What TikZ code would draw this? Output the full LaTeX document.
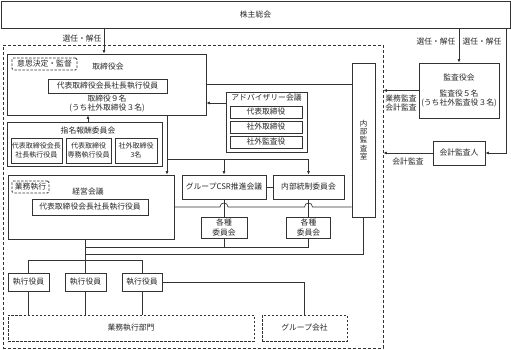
\documentclass[tikz,border=0pt]{standalone}
\usepackage{fontspec}
\newfontfamily\jp{Noto Sans CJK JP}
\usetikzlibrary{arrows.meta,calc}
\begin{document}
\begin{tikzpicture}[x=1pt,y=-1pt,
  font=\jp\fontsize{7.8}{9.3}\selectfont,
  ln/.style={line width=0.65pt,draw=black!80},
  arr/.style={ln,-{Latex[length=3.5pt,width=3pt]}},
  sz/.style 2 args={minimum width=#1pt,minimum height=#2pt},
  bx/.style={draw=black!80,line width=0.75pt,inner sep=0pt,align=center,text=black!85},
  dbx/.style={bx,dash pattern=on 2.5pt off 1.5pt},
  txt/.style={inner sep=0pt,align=center,text=black!85},
  small/.style={font=\jp\fontsize{7}{8.5}\selectfont}]
\useasboundingbox (0,0) rectangle (511,350);
% outer dashed region
\node[bx,dash pattern=on 3pt off 2pt,sz={380}{303}] (org) at (193,196.5) {};
% shareholders
\node[bx,sz={509}{27}] (sh) at (255.5,14.5) {株主総会};
% board
\node[bx,sz={199}{61}] (tori) at (106.5,84.5) {};
\node[dbx,rounded corners=1.5pt,sz={65}{12}] (ishi) at (44.5,64) {意思決定・監督};
\node[txt] (toriT) at (108,67) {取締役会};
\node[bx,sz={119}{14}] (toriP) at (107.5,86) {代表取締役会長社長執行役員};
\node[txt] (toriN) at (107,103.5) {取締役９名\\(うち社外取締役３名)};
% nomination committee
\node[bx,sz={155}{44}] (shimei) at (84.5,144) {};
\node[txt] (shimeiT) at (88,131) {指名報酬委員会};
\node[bx,small,sz={51}{25}] (sm1) at (36.5,150.5) {代表取締役会長\\社長執行役員};
\node[bx,small,sz={45}{25}] (sm2) at (88.5,150.5) {代表取締役\\専務執行役員};
\node[bx,small,sz={42}{25}] (sm3) at (136,150.5) {社外取締役\\3名};
% advisory
\node[bx,sz={81}{60}] (adv) at (266.5,122) {};
\node[txt] (advT) at (266.5,98) {アドバイザリー会議};
\node[bx,sz={72}{12}] (adv1) at (266,112) {代表取締役};
\node[bx,sz={72}{12}] (adv2) at (266,127) {社外取締役};
\node[bx,sz={72}{12}] (adv3) at (266,142) {社外監査役};
% internal audit
\node[bx,sz={23}{154},font=\jp\fontsize{7.5}{8.3}\selectfont] (ikan) at (363.5,140) {内\\部\\監\\査\\室};
% auditors
\node[bx,sz={80}{55}] (kansa) at (459,90.5) {監査役会\\[7pt]監査役５名\\(うち社外監査役３名)};
\node[bx,sz={52}{24}] (kaikei) at (459,153) {会計監査人};
% management meeting
\node[bx,sz={166}{64}] (keiei) at (91,207) {};
\node[dbx,rounded corners=1.5pt,sz={37}{12}] (gyo) at (30.5,187) {業務執行};
\node[txt] (keieiT) at (88,192) {経営会議};
\node[bx,sz={116}{16}] (keieiP) at (90,207) {代表取締役会長社長執行役員};
% CSR & internal control
\node[bx,sz={84}{24}] (csr) at (224,187) {グループCSR推進会議};
\node[bx,sz={71}{24}] (naibu) at (308.5,187) {内部統制委員会};
\node[bx,sz={46}{21}] (k1) at (224,227.5) {各種\\委員会};
\node[bx,sz={44}{21}] (k2) at (308.5,227.5) {各種\\委員会};
% executives
\node[bx,sz={41}{18}] (ex1) at (28.5,282) {執行役員};
\node[bx,sz={41}{18}] (ex2) at (85.5,282) {執行役員};
\node[bx,sz={40}{18}] (ex3) at (142,282) {執行役員};
\node[dbx,sz={246}{26}] (gyomu) at (131,328) {業務執行部門};
\node[dbx,sz={85}{26}] (grp) at (304.5,328) {グループ会社};
% labels
\node[txt] (l1) at (82,39) {選任・解任};
\node[txt] (l2) at (436,42) {選任・解任};
\node[txt] (l3) at (482,42) {選任・解任};
\node[txt] (l4) at (401,103) {業務監査\\会計監査};
\node[txt] (l5) at (408,162) {会計監査};
% coordinates
\coordinate (t1) at ([xshift=-2.5pt]tori.north);
\coordinate (t2) at ([xshift=3.5pt]shimei.north);
\coordinate (v1) at (167,159);
\coordinate (a2) at (226,103);
\coordinate (r1) at (506,28);
\coordinate (j1) at (85.5,247);
\coordinate (j2) at (85.5,254);
% connectors
\draw[arr] (t1 |- sh.south) -- (t1);
\draw[arr] (kansa.north |- sh.south) -- (kansa.north);
\draw[arr] (r1) |- (kaikei.east);
\draw[arr] (kansa.west) -- (kansa.west -| org.east);
\draw[arr] (kaikei.west) -- (kaikei.west -| org.east);
\draw[arr] (t2) -- (t2 |- tori.south);
\draw[arr] (a2) -- (a2 -| tori.east);
\draw[ln] (tori.east) -- (tori.east -| ikan.west);
\draw[arr] (v1 |- tori.south) -- (v1 |- keiei.north);
\draw[arr] (v1) -| (csr.north);
\draw[arr] (v1) -| (naibu.north);
\draw[ln] (csr.east) -- (naibu.west);
\draw[ln] (csr.south) -- (k1.north);
\draw[ln] (naibu.south) -- (k2.north);
\draw[ln] (keiei.east) -- (220,207) .. controls (220,201.7) and (228,201.7) .. (228,207)
  -- (304.5,207) .. controls (304.5,201.7) and (312.5,201.7) .. (312.5,207) -- (ikan.west |- keiei.east);
\draw[ln] (k1.south) |- (j1);
\draw[ln] (k2.south) |- (j1);
\draw[ln] (ikan.south) |- (j2);
\draw[ln] (ex2.north |- keiei.south) -- (ex2.north);
\draw[ln] (ex1.north) -- ++(0,-12) -| (ex3.north);
\draw[ln] (ex1.south) -- (ex1.south |- gyomu.north);
\draw[ln] (ex2.south) -- (ex2.south |- gyomu.north);
\draw[ln] (ex3.south) -- (ex3.south |- gyomu.north);
\draw[ln] (ex3.east) -| (grp.north);
\end{tikzpicture}
\end{document}
